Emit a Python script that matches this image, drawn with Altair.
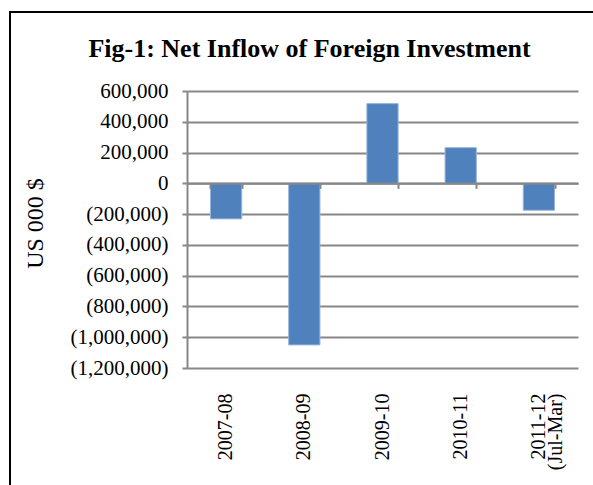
import altair as alt
import pandas as pd

years = ["2007-08", "2008-09", "2009-10", "2010-11", "2011-12|(Jul-Mar)"]
values = [-231000, -1050000, 518000, 232000, -175000]
y_ticks = [-1200000, -1000000, -800000, -600000, -400000, -200000, 0, 200000, 400000, 600000]

df = pd.DataFrame({"year": years, "value": values})

FONT = "Liberation Serif"
GRID = "#878787"
W, H = 391, 277

xscale = alt.Scale(domain=years, paddingInner=0.6, paddingOuter=0.3)
yscale = alt.Scale(domain=[-1200000, 600000], nice=False, zero=False)

label_expr = ("datum.value < 0 ? '(' + format(-datum.value, ',') + ')' : "
              "format(datum.value, ',') + '\u00a0'")

yaxis = alt.Axis(values=y_ticks, labelExpr=label_expr, labelOverlap=False,
                 labelFont=FONT, labelFontSize=21, labelColor="black",
                 labelPadding=14, tickSize=5, tickColor=GRID, tickWidth=2,
                 domainColor=GRID, domainWidth=2,
                 grid=True, gridColor=GRID, gridWidth=2, gridOpacity=1,
                 titleFont=FONT, titleFontSize=24, titleFontWeight="normal",
                 titleColor="black", titleAngle=-90, titleBaseline="middle",
                 titleAlign="center", titleX=-152, titleY=132)

bars = alt.Chart(df).mark_bar(color="#4F81BD", stroke="#9BB5DA", strokeWidth=1).encode(
    x=alt.X("year:N", scale=xscale, sort=years, title=None,
            axis=alt.Axis(orient="bottom", labels=True, domain=False, ticks=False,
                          grid=False, labelAngle=-90, labelPadding=25,
                          labelFont=FONT, labelFontSize=20, labelColor="black",
                          labelLineHeight=17,
                          labelExpr="split(datum.label, '|')")),
    y=alt.Y("value:Q", scale=yscale, title="US 000 $", axis=yaxis),
)

zero_axis = alt.Chart(df).mark_bar(opacity=0).encode(
    x=alt.X("year:N", scale=xscale, sort=years, title=None,
            axis=alt.Axis(orient="bottom", offset=-(H * 1200000 / 1800000),
                          labels=False, domain=True, domainColor=GRID, domainWidth=2,
                          ticks=True, tickColor=GRID, tickSize=5, tickWidth=2,
                          tickBand="extent", grid=False, zindex=1)),
    y=alt.Y("value:Q", scale=yscale, title="US 000 $", axis=yaxis),
)

border = alt.Chart(df).mark_rect(filled=False, stroke="black", strokeWidth=2).encode(
    x=alt.value(10 - 187), x2=alt.value(700), y=alt.value(12 - 91), y2=alt.value(600)
)

chart = alt.layer(bars, zero_axis, border).resolve_axis(x="independent").properties(
    width=W, height=H,
    autosize="none",
    padding={"left": 187, "top": 91, "right": 15, "bottom": 117},
    title=alt.TitleParams("Fig-1: Net Inflow of Foreign Investment", font=FONT,
                          fontSize=26, fontWeight="bold", color="black",
                          anchor="middle", dx=-73, baseline="alphabetic",
                          offset=22, dy=94),
).configure_view(stroke=None)

chart.save("out.html", embed_options={"renderer": "svg", "actions": False})
